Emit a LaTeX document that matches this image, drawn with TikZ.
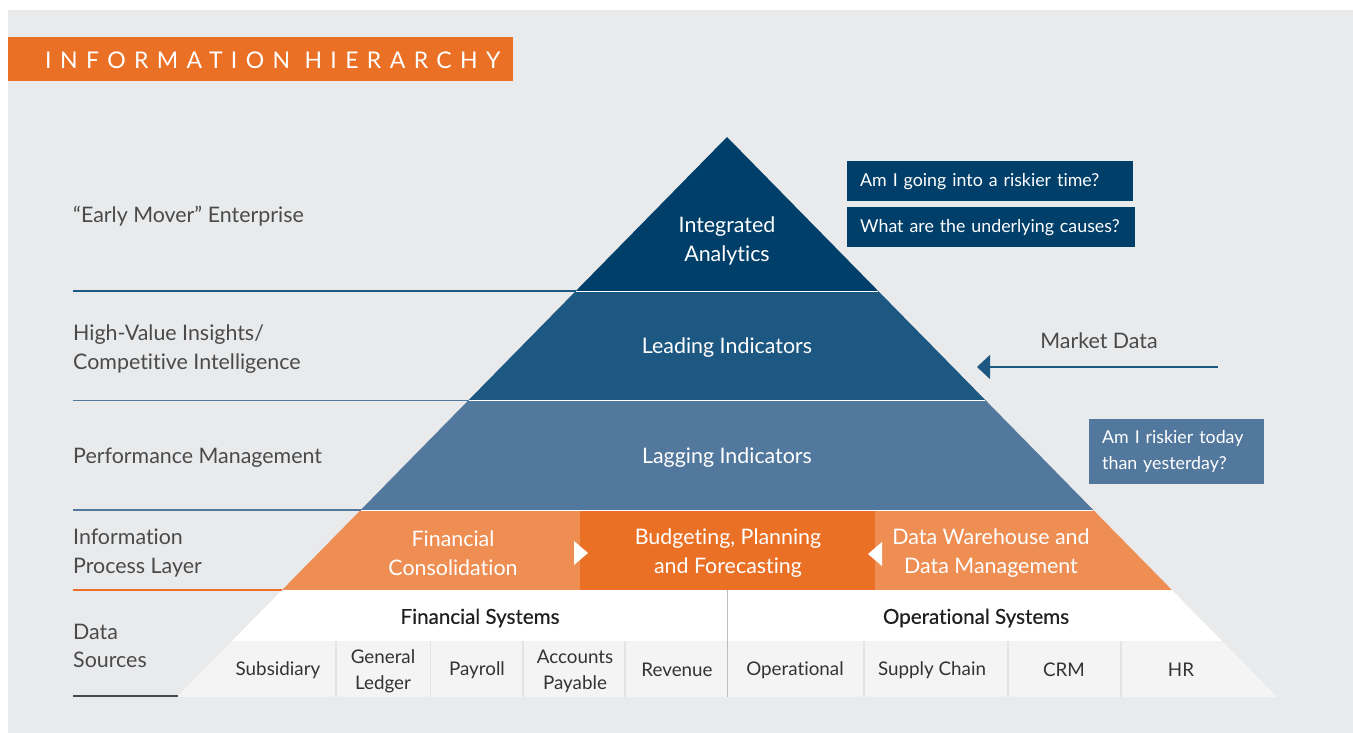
\documentclass[tikz,border=0pt]{standalone}
\usepackage{fontspec}
\setmainfont{Lato}[Ligatures=NoCommon]
\usetikzlibrary{arrows.meta,positioning}

\definecolor{bggray}{HTML}{E9EAEC}
\definecolor{navyA}{HTML}{003F6A}
\definecolor{navyB}{HTML}{1D5882}
\definecolor{navyC}{HTML}{52789D}
\definecolor{orangeL}{HTML}{EE8E52}
\definecolor{orangeD}{HTML}{EA7026}
\definecolor{rowgray}{HTML}{F4F4F4}
\definecolor{sepgray}{HTML}{E3E3E3}
\definecolor{divgray}{HTML}{BDBDBD}
\definecolor{labelgray}{HTML}{4A4A4A}
\definecolor{cellgray}{HTML}{333333}

\begin{document}
\begin{tikzpicture}[x=1pt,y=-1pt,
  lbl/.style={anchor=west,align=left,text=labelgray,inner sep=0pt,font=\fontsize{21.4}{28.5}\selectfont},
  tier/.style={align=center,text=white,inner sep=0pt,font=\fontsize{21.4}{29}\selectfont},
  cell/.style={align=center,text=cellgray,inner sep=0pt,font=\fontsize{18.8}{26}\selectfont},
  syshead/.style={align=center,text=black!88,inner sep=0pt,font=\fontsize{20.6}{26}\selectfont\addfontfeature{FakeBold=0.4}},
  askbox/.style={anchor=north west,align=left,text=white,inner xsep=13pt,inner ysep=0pt,font=\fontsize{17.8}{26}\selectfont},
  sideline/.style={line width=1.5pt},
  cellsep/.style={sepgray,line width=1.5pt}]
\useasboundingbox (0,0) rectangle (1353,733);

%Background
\fill[bggray] (8,10) rectangle (1353,733);
%Title band
\fill[orangeD] (8,37) rectangle (513,81);
\node (title) [anchor=base west,inner sep=0pt,text=white,font=\fontsize{23}{23}\selectfont\addfontfeature{LetterSpace=36.5}] at (45,69) {INFORMATION HIERARCHY};

%Pyramid tiers
\fill[navyA] (727,137) -- (878.2,291) -- (575.8,291) -- cycle;
\fill[navyB] (575.8,291) -- (878.2,291) -- (985.3,400) -- (468.7,400) -- cycle;
\fill[navyC] (468.7,400) -- (985.3,400) -- (1093.3,510) -- (360.7,510) -- cycle;
\fill[orangeL] (360.7,510) -- (1093.3,510) -- (1171.9,590) -- (282.1,590) -- cycle;
\fill[orangeD] (580,510) rectangle (875,590);
\fill[white] (282.1,590) -- (1171.9,590) -- (1222,641) -- (232,641) -- cycle;
\fill[rowgray] (232,641) -- (1222,641) -- (1277,697) -- (177,697) -- cycle;
%White seams
\draw[white,line width=0.8pt] (575.8,291) -- (878.2,291);
\draw[white,line width=0.8pt] (468.7,400) -- (985.3,400);
\draw[white,line width=0.8pt] (360.7,510) -- (1093.3,510);
%Flow markers
\fill[white] (574,541) -- (588,553) -- (574,565) -- cycle;
\fill[white] (882,542) -- (868,554) -- (882,566) -- cycle;

%Straight Lines (left rules)
\draw[sideline,navyB] (73,291) -- (575.8,291);
\draw[sideline,navyC] (73,400.5) -- (468.7,400.5);
\draw[sideline,navyC] (73,510) -- (360.7,510);
\draw[sideline,orangeD] (73,590) -- (282.1,590);
\draw[sideline,labelgray] (73,696) -- (178,696);

%Straight Lines (cell separators)
\draw[cellsep] (336,641) -- (336,697);
\draw[cellsep] (430.5,641) -- (430.5,697);
\draw[cellsep] (523,641) -- (523,697);
\draw[cellsep] (625,641) -- (625,697);
\draw[cellsep] (864,641) -- (864,697);
\draw[cellsep] (1008,641) -- (1008,697);
\draw[cellsep] (1121,641) -- (1121,697);
\draw[divgray,line width=1.5pt] (727.5,590) -- (727.5,697);

% Text Node
\node (early) [lbl] at (73,216) {“Early Mover” Enterprise};
\node (insight) [lbl] at (73,349) {High-Value Insights/\\Competitive Intelligence};
\node (perf) [lbl] at (73,458) {Performance Management};
\node (process) [lbl] at (73,553) {Information\\Process Layer};
\node (sources) [lbl] at (73,646) {Data\\Sources};

% Text Node
\node (integ) [tier] at (727,241) {Integrated\\Analytics};
\node (leading) [tier] at (727,348) {Leading Indicators};
\node (lagging) [tier] at (727,458) {Lagging Indicators};
\node (fincons) [tier] at (453,553) {Financial\\Consolidation};
\node (budget) [tier] at (728,553) {Budgeting, Planning\\and Forecasting};
\node (dwh) [tier] at (991,553) {Data Warehouse and\\Data Management};

% Text Node
\node (finsys) [syshead] at (480,618) {Financial Systems};
\node (opsys) [syshead] at (976,618) {Operational Systems};
\node (subs) [cell] at (278,670) {Subsidiary};
\node (ledger) [cell] at (383,671) {General\\Ledger};
\node (payroll) [cell] at (477,670) {Payroll};
\node (payable) [cell] at (575,671) {Accounts\\Payable};
\node (revenue) [cell] at (677,670) {Revenue};
\node (oper) [cell] at (795,670) {Operational};
\node (supply) [cell] at (932,670) {Supply Chain};
\node (crm) [cell] at (1064,670) {CRM};
\node (hr) [cell] at (1181,670) {HR};

% Question boxes
\node (riskier) [askbox,fill=navyA,minimum width=286pt,minimum height=40pt,text width=260pt] at (847,161) {Am I going into a riskier time?};
\node (causes) [askbox,fill=navyA,minimum width=288pt,minimum height=40pt,text width=262pt] at (847,207) {What are the underlying causes?};
\node (today) [askbox,fill=navyC,minimum width=175pt,minimum height=65pt,text width=149pt] at (1089,419) {Am I riskier today\\than yesterday?};

% Market data feed
\node (market) [tier,text=labelgray] at (1099,341) {Market Data};
\coordinate (feedstart) at (1218,367);
\coordinate (feedtip) at (977,367);
\draw[navyB,line width=1.5pt,-{Triangle[length=13pt,width=24pt]}] (feedstart) -- (feedtip);

\end{tikzpicture}
\end{document}
